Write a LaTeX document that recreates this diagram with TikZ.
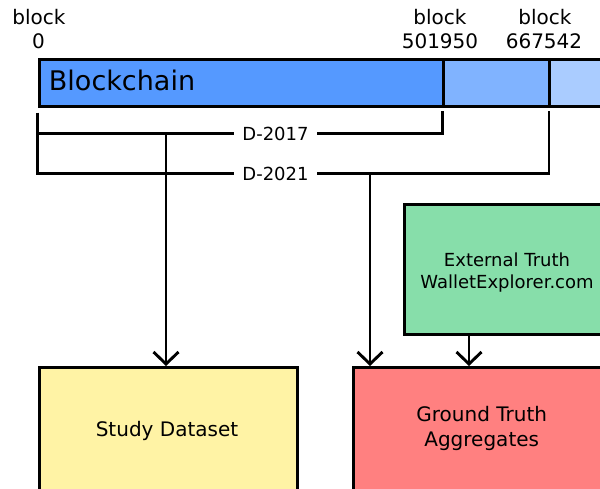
\documentclass[tikz,border=0pt]{standalone}
\usepackage{fontspec}
\setmainfont{DejaVu Sans}
\usetikzlibrary{arrows.meta}
\definecolor{bcdark}{HTML}{5599FF}
\definecolor{bcmid}{HTML}{80B3FF}
\definecolor{bclight}{HTML}{AACCFF}
\definecolor{extgreen}{HTML}{87DEAA}
\definecolor{gtred}{HTML}{FF8080}
\definecolor{studyyellow}{HTML}{FFF3A5}
\begin{document}
\begin{tikzpicture}[x=1pt,y=-1pt,line width=2.9pt,
  seg/.style={draw=black,inner sep=0pt,anchor=north west,line width=2.9pt},
  boxst/.style={draw=black,inner sep=0pt,anchor=north west,line width=2.9pt},
  lbl/.style={anchor=base,inner sep=0pt,font=\fontsize{20}{24}\selectfont},
  dlbl/.style={fill=white,inner xsep=8.5pt,inner ysep=2pt,font=\fontsize{18}{22}\selectfont},
  txt20/.style={anchor=base,inner sep=0pt,font=\fontsize{20}{24}\selectfont},
  txt18/.style={anchor=base,inner sep=0pt,font=\fontsize{18}{22}\selectfont},
  arr/.style={-{Straight Barb[length=12pt,width=25pt,line width=2.9pt]}},
]
\useasboundingbox (0,0) rectangle (600,489);
\clip (0,0) rectangle (600,489);

% blockchain bar
\node[seg,fill=bcdark,minimum width=404pt,minimum height=47pt] (s1) at (38,58) {};
\node[seg,fill=bcmid,minimum width=106pt,minimum height=47pt] (s2) at (442,58) {};
\node[seg,fill=bclight,minimum width=70pt,minimum height=47pt] (s3) at (548,58) {};
\node[anchor=base west,inner sep=0pt,font=\fontsize{27}{32}\selectfont] (bctext) at (47.5,90.5) {Blockchain};

% block labels
\node[lbl] (b0a) at (39,25) {block};
\node[lbl] (b0b) at (38.5,48.3) {0};
\node[lbl] (b1a) at (440,25) {block};
\node[lbl] (b1b) at (440,48.3) {501950};
\node[lbl] (b2a) at (545,25) {block};
\node[lbl] (b2b) at (544,48.3) {667542};

% bracket coordinates
\coordinate (l0) at (37.5,112.7);
\coordinate (l17) at (37.5,133.7);
\coordinate (l21) at (37.5,173.5);
\coordinate (r17t) at (442.5,111.5);
\coordinate (r17) at (442.5,133.7);
\coordinate (r21t) at (549,111.5);
\coordinate (r21) at (549,173.5);
\coordinate (j17) at (166,133.7);
\coordinate (j21) at (370,173.5);

\draw (l0) -- (l21) -- (r21) -- (r21t);
\draw (l17) -- (r17) -- (r17t);
\node[dlbl] (d17) at (275.5,133.7) {D-2017};
\node[dlbl] (d21) at (275.5,173.5) {D-2021};

% boxes
\node[boxst,fill=extgreen,minimum width=209pt,minimum height=130pt] (ext) at (403,203) {};
\node[boxst,fill=studyyellow,minimum width=258pt,minimum height=126pt] (study) at (38,366) {};
\node[boxst,fill=gtred,minimum width=260pt,minimum height=126pt] (gt) at (352,366) {};

\node[txt18] (ext1) at (507,266.7) {External Truth};
\node[txt18] (ext2) at (507,289) {WalletExplorer.com};
\node[txt20] (st1) at (167,436.7) {Study Dataset};
\node[txt20] (gt1) at (481.7,421.7) {Ground Truth};
\node[txt20] (gt2) at (481.7,446.7) {Aggregates};

% arrows
\draw[arr] (j17) -- (j17 |- study.north);
\draw[arr] (j21) -- (j21 |- gt.north);
\draw[arr] (ext.south -| 469,0) -- (469,366);
\end{tikzpicture}
\end{document}
